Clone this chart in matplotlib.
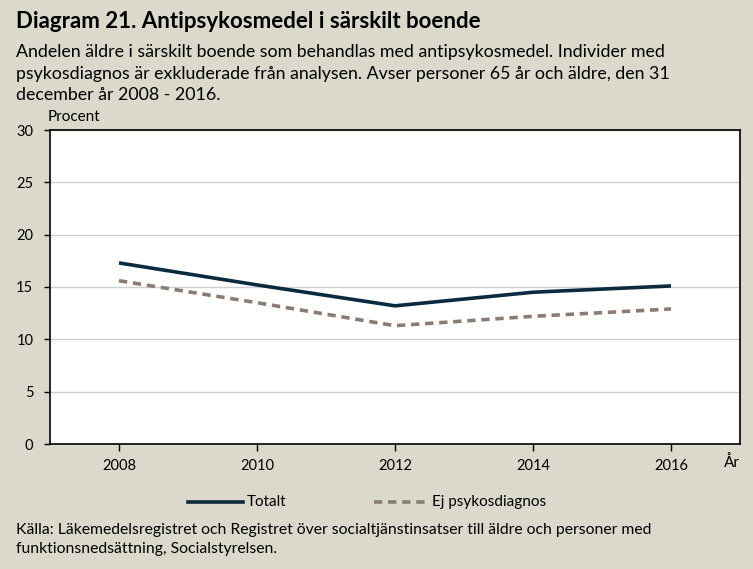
import matplotlib
matplotlib.use("Agg")
import matplotlib.pyplot as plt
from matplotlib.lines import Line2D

years = [2008, 2010, 2012, 2014, 2016]
totalt = [17.3, 15.2, 13.2, 14.5, 15.1]
ej_psykos = [15.6, 13.5, 11.3, 12.2, 12.9]
xticks = [2008, 2010, 2012, 2014, 2016]
yticks = [0, 5, 10, 15, 20, 25, 30]

title = "Diagram 21. Antipsykosmedel i särskilt boende"
subtitle = ["Andelen äldre i särskilt boende som behandlas med antipsykosmedel. Individer med",
            "psykosdiagnos är exkluderade från analysen. Avser personer 65 år och äldre, den 31",
            "december år 2008 - 2016."]
source = ["Källa: Läkemedelsregistret och Registret över socialtjänstinsatser till äldre och personer med",
          "funktionsnedsättning, Socialstyrelsen."]

plt.rcParams['font.family'] = ['Lato', 'DejaVu Sans']
bg = '#dbd8cc'
navy = '#0b2a3e'
brown = '#8a7c72'
dash = (2.3, 1.6)

W, H = 753, 569
fig = plt.figure(figsize=(W/100, H/100), dpi=100, facecolor=bg)
ax = fig.add_axes([50/W, 1-444/H, 690/W, 314/H])
ax.set_facecolor('white')
ax.plot(years, totalt, color=navy, lw=2.6, solid_capstyle='butt')
ax.plot(years, ej_psykos, color=brown, lw=2.6, dashes=dash)
ax.set_xlim(2007, 2017)
ax.set_ylim(0, 30)
ax.set_xticks(xticks)
ax.set_yticks(yticks)
ax.grid(axis='y', color='#d0d0d0', lw=1)
ax.set_axisbelow(True)
for s in ax.spines.values():
    s.set_color('black'); s.set_linewidth(1.2)
ax.tick_params(axis='x', direction='out', length=5, width=1, pad=6, labelsize=10.5, colors='black')
ax.tick_params(axis='y', direction='out', length=4, width=1, pad=8, labelsize=10.5, colors='black')

fig.text(16/W, 1-22/H, title, fontsize=16, fontweight='bold', va='center', ha='left')
for i, line in enumerate(subtitle):
    fig.text(16/W, 1-(52+21.5*i)/H, line, fontsize=12.8, va='center', ha='left')
fig.text(48/W, 1-117/H, "Procent", fontsize=11, va='center', ha='left')
fig.text(732/W, 1-463/H, "År", fontsize=11, va='center', ha='center')

# legend
ly = 1-502/H
fig.add_artist(Line2D([188/W, 243/W], [ly, ly], color=navy, lw=2.6))
fig.text(247/W, ly, "Totalt", fontsize=11, va='center', ha='left')
fig.add_artist(Line2D([374/W, 426/W], [ly, ly], color=brown, lw=2.6, dashes=dash))
fig.text(432/W, ly, "Ej psykosdiagnos", fontsize=11, va='center', ha='left')

for i, line in enumerate(source):
    fig.text(16/W, 1-(530+19*i)/H, line, fontsize=11.3, va='center', ha='left')

fig.savefig("out.png", dpi=100, facecolor=bg)
